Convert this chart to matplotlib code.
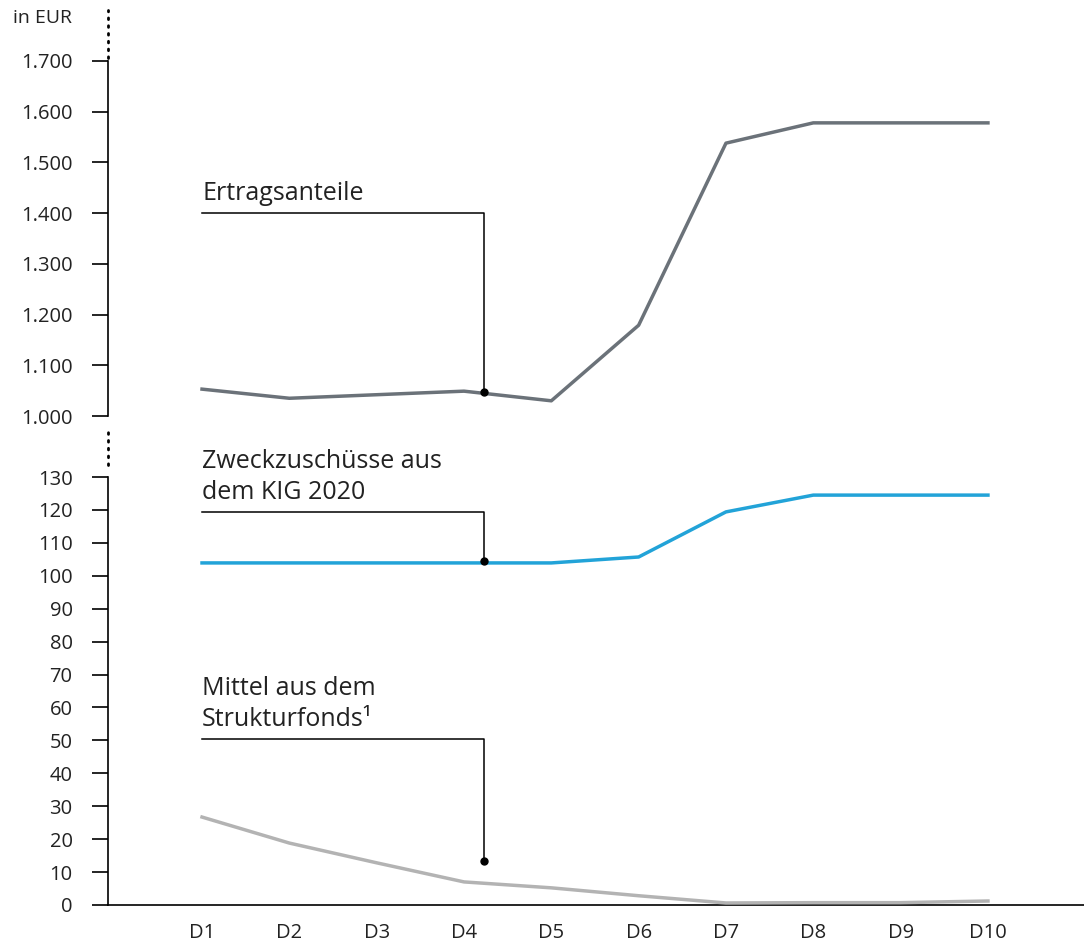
import matplotlib
matplotlib.use("Agg")
import matplotlib.pyplot as plt

plt.rcParams['font.family'] = ['Open Sans', 'DejaVu Sans']

# data
periods = ["D1", "D2", "D3", "D4", "D5", "D6", "D7", "D8", "D9", "D10"]
ertragsanteile = [1053, 1035, 1042, 1049, 1030, 1179, 1538, 1578, 1578, 1578]
zweckzuschuesse = [103.9, 103.9, 103.9, 103.9, 103.9, 105.7, 119.4, 124.5, 124.5, 124.5]
strukturfonds = [26.7, 18.8, 12.8, 7.0, 5.2, 2.8, 0.6, 0.7, 0.7, 1.2]

top_ticks = [1000, 1100, 1200, 1300, 1400, 1500, 1600, 1700]
top_labels = ["1.000", "1.100", "1.200", "1.300", "1.400", "1.500", "1.600", "1.700"]
bot_ticks = list(range(0, 131, 10))

c_dark = "#6b7279"
c_blue = "#22a3d8"
c_light = "#b3b3b3"
txt = "#222222"

x = list(range(1, len(periods) + 1))

fig = plt.figure(figsize=(10.84, 9.47), dpi=100)
ax1 = fig.add_axes([0.0996, 0.5607, 0.9004, 0.3749])
ax2 = fig.add_axes([0.0996, 0.0444, 0.9004, 0.4519])

for ax in (ax1, ax2):
    ax.set_xlim(-0.077, 11.1)
    for s in ("top", "right"):
        ax.spines[s].set_visible(False)
    ax.spines["left"].set_linewidth(1.2)
    ax.tick_params(axis="y", length=11.5, width=1.2, pad=14, labelsize=14.5, labelcolor=txt)

ax1.spines["bottom"].set_visible(False)
ax1.set_xticks([])
ax1.set_ylim(1000, 1700)
ax1.set_yticks(top_ticks)
ax1.set_yticklabels(top_labels)

ax2.spines["bottom"].set_linewidth(1.2)
ax2.set_ylim(0, 130)
ax2.set_yticks(bot_ticks)
ax2.set_xticks(x)
ax2.set_xticklabels(periods)
ax2.tick_params(axis="x", length=0, pad=13, labelsize=14.5, labelcolor=txt)

ax1.plot(x, ertragsanteile, color=c_dark, lw=2.5, zorder=3)
ax2.plot(x, zweckzuschuesse, color=c_blue, lw=2.5, zorder=3)
ax2.plot(x, strukturfonds, color=c_light, lw=2.5, zorder=3)

# leader lines + labels
lx = 4.23
def leader(ax, yline, ydot, label):
    ax.plot([1, lx, lx], [yline, yline, ydot], color="black", lw=1.1, zorder=4)
    ax.plot([lx], [ydot], "o", color="black", ms=5, zorder=5)
    ax.annotate(label, (1, yline), xytext=(0, 5), textcoords="offset points",
                ha="left", va="bottom", fontsize=18, color=txt, linespacing=1.3)

leader(ax1, 1400, 1047, "Ertragsanteile")
leader(ax2, 119.4, 104.5, "Zweckzuschüsse aus\ndem KIG 2020")
leader(ax2, 50.4, 13.4, "Mittel aus dem\nStrukturfonds¹")

# dotted axis breaks
ax1.plot([0, 0], [1.008, 1.144], transform=ax1.transAxes, clip_on=False,
         color="black", lw=2, linestyle=(0, (0.6, 2.2)), dash_capstyle="round")
ax2.plot([0, 0], [1.028, 1.114], transform=ax2.transAxes, clip_on=False,
         color="black", lw=2, linestyle=(0, (0.6, 2.2)), dash_capstyle="round")

fig.text(72 / 1084, 1 - 18 / 947, "in EUR", ha="right", va="center", fontsize=14, color=txt)

fig.savefig("out.png", dpi=100)
